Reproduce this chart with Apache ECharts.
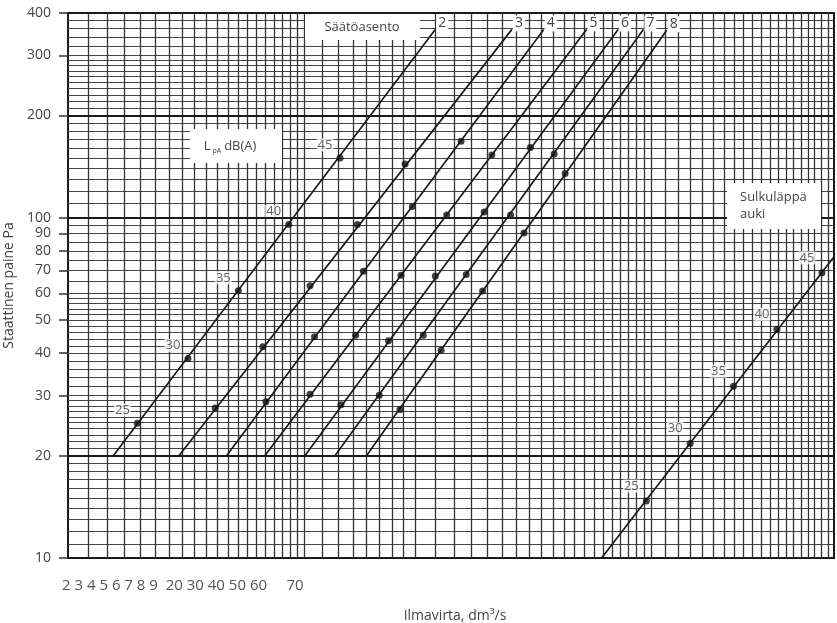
<!DOCTYPE html>
<html>
<head>
<meta charset="utf-8">
<script src="https://cdn.jsdelivr.net/npm/echarts@6/dist/echarts.min.js"></script>
<style>
html,body{margin:0;padding:0;background:#fff;}
#main{width:837px;height:623px;}
</style>
</head>
<body>
<div id="main"></div>
<script>
// Säätöasennot ja äänitasot (dB(A)) pisteissä
var positions = ['2', '3', '4', '5', '6', '7', '8'];
var dbLevels = [25, 30, 35, 40, 45];

// suorien alku- ja loppupisteet (ilmavirta dm3/s, paine Pa)
var lineStartQ = [2.47, 3.35, 4.18, 4.99, 6.01, 6.91, 8.00];
var lineStartP = [20, 20, 20, 20, 20, 20, 20];
var lineEndQ = [11.0, 15.7, 18.2, 22.2, 25.7, 28.9, 32.2];
var lineEndP = [358, 358, 358, 358, 358, 358, 356];

// pisteet 25..45 dB(A) kullakin suoralla
var dotQ = [
	[2.76, 3.49, 4.41, 5.57, 7.07],
	[3.96, 4.94, 6.15, 7.66, 9.56],
	[5.01, 6.28, 7.88, 9.89, 12.4],
	[6.15, 7.60, 9.38, 11.6, 14.3],
	[7.10, 8.85, 11.0, 13.8, 17.1],
	[8.48, 10.4, 12.7, 15.6, 19.1],
	[9.34, 11.3, 13.7, 16.6, 20.1]
];
var dotP = [
	[24.9, 38.6, 61.0, 95.6, 150],
	[27.6, 41.8, 63.1, 95.6, 144],
	[28.8, 44.7, 69.7, 108, 168],
	[30.3, 45.2, 67.8, 102, 153],
	[28.2, 43.5, 67.5, 104, 161],
	[30.1, 45.2, 68.1, 102, 154],
	[27.3, 40.8, 60.9, 90.3, 135]
];

// sulkuläppä auki
var openQ = [23.8, 70];
var openP = [10, 76.8];
var openDotQ = [29.3, 35.9, 43.9, 53.7, 66.2];
var openDotP = [14.7, 21.7, 32.0, 47.0, 68.9];

// akselit
var yTickLabels = [10, 20, 30, 40, 50, 60, 70, 80, 90, 100, 200, 300, 400];
var xTickLabels = ['2', '3', '4', '5', '6', '7', '8', '9', '20', '30', '40', '50', '60', '70'];
var yThick = [20, 100, 200];

var steps = function(from, to, step){
	var arr = [];
	for (var v = from; v <= to + 1e-9; v += step) {
		arr.push(Math.round(v * 100) / 100);
	}
	return arr;
};
var xGrid = [].concat(steps(2.2, 5.8, 0.2), steps(6, 9.5, 0.5), steps(10, 29, 1), steps(30, 68, 2));
var yGrid = [].concat(steps(11, 29, 1), steps(30, 58, 2), steps(60, 95, 5), steps(100, 290, 10), steps(300, 380, 20));

var font = '"Open Sans", sans-serif';
var txtColor = '#444';

var dom = document.getElementById('main');
var myChart = echarts.init(dom);
var option = null;

var series = [];
for (var i = 0; i < positions.length; i++) {
	series.push({
		name: 'asento ' + positions[i],
		type: 'line',
		symbol: 'none',
		silent: true,
		z: 3,
		lineStyle: { color: '#1a1a1a', width: 1.7 },
		endLabel: {
			show: true,
			formatter: positions[i],
			distance: 1,
			offset: [0, -6],
			fontFamily: font,
			fontSize: 14,
			color: txtColor,
			backgroundColor: '#fff',
			padding: [1, 2]
		},
		data: [
			[lineStartQ[i], lineStartP[i]],
			[lineEndQ[i], lineEndP[i]]
		]
	});
	var pts = [];
	for (var j = 0; j < dbLevels.length; j++) {
		pts.push({
			value: [dotQ[i][j], dotP[i][j]],
			label: { show: i === 0, formatter: String(dbLevels[j]) }
		});
	}
	series.push({
		type: 'scatter',
		symbolSize: 7,
		silent: true,
		z: 4,
		itemStyle: { color: '#111' },
		label: {
			position: 'inside',
			offset: [-15, -13],
			fontFamily: font,
			fontSize: 13,
			color: '#3a3a3a',
			backgroundColor: '#fff',
			padding: [0, 1]
		},
		data: pts
	});
}

series.push({
	name: 'sulkuläppä auki',
	type: 'line',
	symbol: 'none',
	silent: true,
	z: 3,
	lineStyle: { color: '#1a1a1a', width: 1.7 },
	data: [[openQ[0], openP[0]], [openQ[1], openP[1]]]
});
var openPts = [];
for (var k = 0; k < dbLevels.length; k++) {
	openPts.push({ value: [openDotQ[k], openDotP[k]], label: { show: true, formatter: String(dbLevels[k]) } });
}
series.push({
	type: 'scatter',
	symbolSize: 7,
	silent: true,
	z: 4,
	itemStyle: { color: '#111' },
	label: {
		position: 'inside',
		offset: [-15, -15],
		fontFamily: font,
		fontSize: 13,
		color: '#3a3a3a',
		backgroundColor: '#fff',
		padding: [0, 1]
	},
	data: openPts
});

// paksummat vaakaviivat
series.push({
	type: 'line',
	data: [],
	silent: true,
	markLine: {
		silent: true,
		symbol: 'none',
		animation: false,
		label: { show: false },
		lineStyle: { color: '#1a1a1a', width: 2.2, type: 'solid' },
		data: yThick.map(function(v){ return { yAxis: v }; })
	}
});

option = {
	animation: false,
	backgroundColor: '#fff',
	grid: {
		left: 68, right: 3, top: 13, bottom: 65,
		outerBoundsMode: 'none',
		containLabel: false,
		show: true,
		borderColor: '#1a1a1a',
		borderWidth: 2
	},
	xAxis: [{
		type: 'log',
		logBase: 10,
		min: 2,
		max: 70,
		name: 'Ilmavirta, dm³/s',
		nameLocation: 'middle',
		nameGap: 51,
		nameTextStyle: { fontFamily: font, fontSize: 14, color: txtColor, padding: [0, 0, 0, 8] },
		axisLine: { show: false },
		axisTick: { show: false, customValues: xGrid },
		axisLabel: { show: false },
		splitLine: { show: true, lineStyle: { color: '#333', width: 1.3 } }
	}],
	yAxis: [{
		type: 'log',
		logBase: 10,
		min: 10,
		max: 400,
		axisLine: { show: false },
		axisTick: { show: false, customValues: yGrid },
		axisLabel: { show: false },
		splitLine: { show: true, lineStyle: { color: '#444', width: 1.2 } }
	}, {
		type: 'log',
		logBase: 10,
		min: 10,
		max: 400,
		position: 'left',
		name: 'Staattinen paine Pa',
		nameLocation: 'middle',
		nameGap: 45,
		nameTextStyle: { fontFamily: font, fontSize: 14, color: txtColor },
		axisLine: { show: false },
		axisTick: { show: true, customValues: yTickLabels, length: 9, lineStyle: { color: '#333', width: 1.5 } },
		axisLabel: { customValues: yTickLabels, fontFamily: font, fontSize: 14, color: txtColor, margin: 17 },
		splitLine: { show: false }
	}],
	graphic: [
		{ type: 'rect', z: 10, shape: { x: 305, y: 14, width: 115, height: 26 }, style: { fill: '#fff' } },
		{ type: 'text', z: 11, x: 362, y: 27, style: { text: 'Säätöasento', font: '13px ' + font, fill: txtColor, align: 'center', verticalAlign: 'middle' } },
		{ type: 'rect', z: 10, shape: { x: 190, y: 129, width: 92, height: 34 }, style: { fill: '#fff' } },
		{ type: 'text', z: 11, x: 230, y: 146, style: {
			text: '{l|L}{s|pA}{l|dB(A)}',
			align: 'center', verticalAlign: 'middle', fill: txtColor,
			rich: {
				l: { fontFamily: font, fontSize: 13, color: txtColor },
				s: { fontFamily: font, fontSize: 7, color: txtColor, padding: [9, 3, 0, 2] }
			}
		} },
		{ type: 'rect', z: 10, shape: { x: 727, y: 183, width: 94, height: 46 }, style: { fill: '#fff' } },
		{ type: 'text', z: 11, x: 740, y: 206, style: { text: 'Sulkuläppä\nauki', font: '13px ' + font, fill: txtColor, align: 'left', verticalAlign: 'middle', lineHeight: 17 } },
		{ type: 'text', z: 11, x: 62, y: 586, style: { text: xTickLabels.slice(0, 8).join(' ') + '  ' + xTickLabels.slice(8, -1).join(' ') + '     ' + xTickLabels[xTickLabels.length - 1], font: '15px ' + font, fill: '#555', align: 'left', verticalAlign: 'middle' } }
	],
	series: series
};

if (option && typeof option === "object") {
	myChart.setOption(option, true);
}
window.addEventListener("resize", function(){
	myChart.resize();
});
</script>
</body>
</html>
